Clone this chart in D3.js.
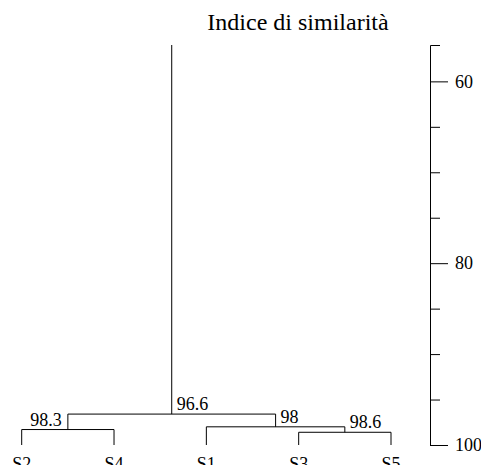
<!DOCTYPE html>
<html>
<head>
<meta charset="utf-8">
<script src="https://cdn.jsdelivr.net/npm/d3@7"></script>
<style>
  body { margin: 0; background: #fff; }
  svg { display: block; }
  text { font-family: "Liberation Serif", "Times New Roman", serif; fill: #000; }
  .axis path, .axis line { stroke: #000; stroke-width: 1; }
  .axis text { font-size: 18px; font-family: "Liberation Serif", serif; }
</style>
</head>
<body>
<div class="graphic"></div>
<script>
// leaves left to right, and the merges (left child, right child, similarity)
var leafNames = ["S2", "S4", "S1", "S3", "S5"]
var clusterNames = ["C1", "C2", "C3", "C4"]
var clusterLeft = ["S2", "S3", "S1", "C1"]
var clusterRight = ["S4", "S5", "C2", "C3"]
var clusterSimilarity = [98.3, 98.6, 98, 96.6]
var clusterLabels = ["98.3", "98.6", "98", "96.6"]

var axisTicks = [60, 65, 70, 75, 80, 85, 90, 95, 100]
var axisLabelled = [60, 80, 100]
var axisTitle = "Indice di similarità"

var width = 481
var height = 465

var svg = d3.select('.graphic').append('svg')
  .attr('width', width)
  .attr('height', height)

var scaleY = d3.scaleLinear()
  .domain([56, 100])
  .range([45, 445])

var scaleX = d3.scalePoint()
  .domain(leafNames)
  .range([21.7, 391])

// positions of every node
var pos = {}
leafNames.forEach(function(n) {
  pos[n] = { x: scaleX(n), y: scaleY(100) }
})
clusterNames.forEach(function(n, i) {
  var l = pos[clusterLeft[i]], r = pos[clusterRight[i]]
  pos[n] = { x: (l.x + r.x) / 2, y: scaleY(clusterSimilarity[i]) }
})
var root = pos[clusterNames[clusterNames.length - 1]]

var tree = svg.append('g')
  .attr('stroke', '#000')
  .attr('stroke-width', 1)
  .attr('fill', 'none')

clusterNames.forEach(function(n, i) {
  var me = pos[n], l = pos[clusterLeft[i]], r = pos[clusterRight[i]]
  var path = d3.path()
  path.moveTo(l.x, l.y)
  path.lineTo(l.x, me.y)
  path.lineTo(r.x, me.y)
  path.lineTo(r.x, r.y)
  tree.append('path').attr('d', path.toString())
})

// stem above the root
tree.append('line')
  .attr('x1', root.x).attr('x2', root.x)
  .attr('y1', scaleY.range()[0]).attr('y2', root.y)

// similarity labels at each merge
svg.selectAll('.nodeLabel')
  .data(clusterNames)
  .enter().append('text')
    .attr('class', 'nodeLabel')
    .attr('font-size', 18)
    .attr('text-anchor', function(d) { return pos[d].x < root.x ? 'end' : 'start' })
    .attr('x', function(d) { return pos[d].x < root.x ? pos[d].x - 6 : pos[d].x + 5 })
    .attr('y', function(d) { return pos[d].y - 4 })
    .text(function(d, i) { return clusterLabels[i] })

// leaf names
svg.selectAll('.leafLabel')
  .data(leafNames)
  .enter().append('text')
    .attr('class', 'leafLabel')
    .attr('font-size', 18)
    .attr('text-anchor', 'middle')
    .attr('x', function(d) { return scaleX(d) })
    .attr('y', 470)
    .text(function(d) { return d })

// similarity axis on the right
var yAxis = d3.axisRight(scaleY)
  .tickValues(axisTicks)
  .tickSizeOuter(0)
  .tickSize(10)
  .tickFormat(function(d) { return axisLabelled.indexOf(d) >= 0 ? d : '' })

var ag = svg.append('g')
  .attr('class', 'axis')
  .attr('transform', 'translate(430,0)')
  .call(yAxis)

ag.selectAll('.tick')
  .filter(function(d) { return axisLabelled.indexOf(d) >= 0 })
  .select('line').attr('x2', 18)
ag.selectAll('.tick text').attr('x', 25).attr('fill', '#000')

svg.append('text')
  .attr('x', 298)
  .attr('y', 30)
  .attr('text-anchor', 'middle')
  .attr('font-size', 24)
  .text(axisTitle)
</script>
</body>
</html>
